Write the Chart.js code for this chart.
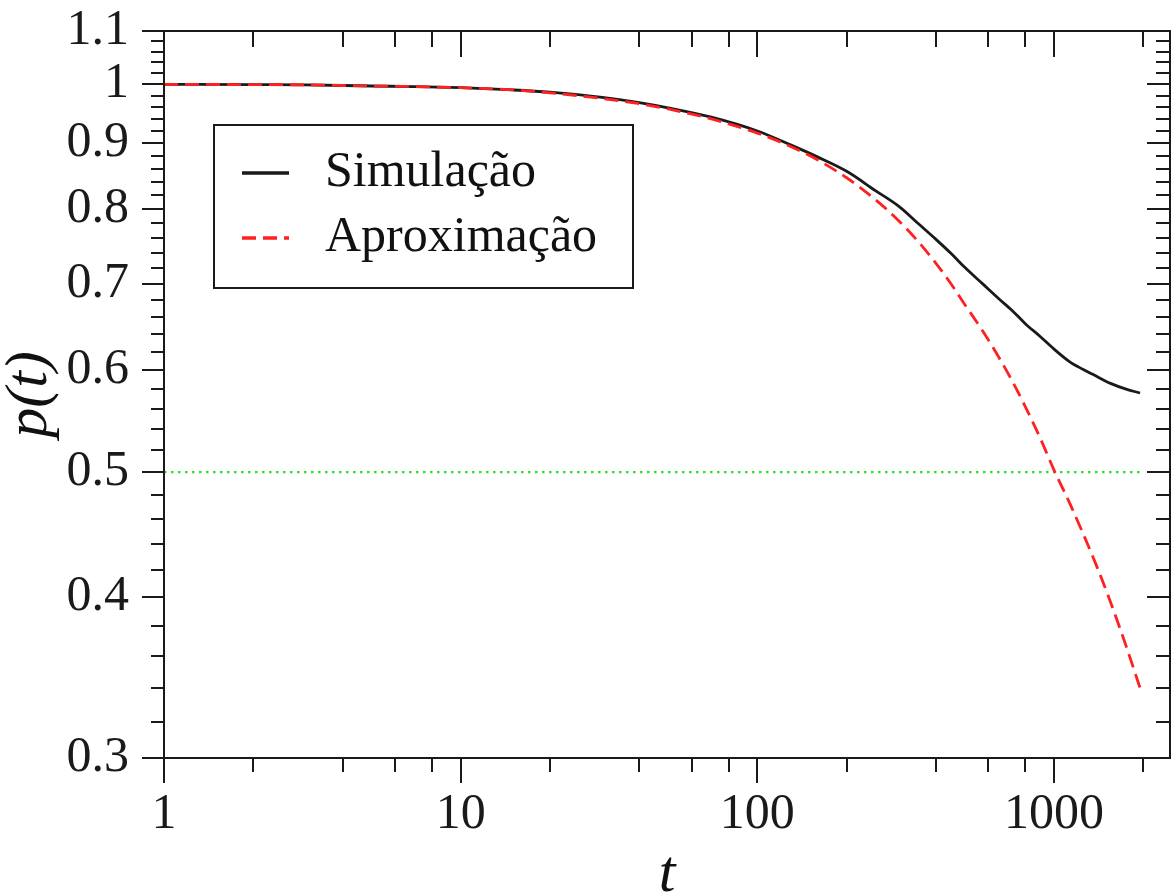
<!DOCTYPE html>
<html><head><meta charset="utf-8">
<script src="https://cdn.jsdelivr.net/npm/chart.js@4.4.0/dist/chart.umd.min.js"></script>
<style>html,body{margin:0;padding:0;background:#fff;}canvas{display:block;}</style>
</head><body>
<canvas id="c" width="1174" height="893"></canvas>
<script>
const tValues     = [1, 2, 3, 5, 7, 10, 15, 20, 30, 40, 50, 70, 100, 130, 160, 200, 250, 300, 350, 400, 450, 500, 575, 650, 725, 800, 900, 1000, 1130, 1250, 1400, 1550, 1750, 1950];
const simulacao   = [1.0, 0.9995, 0.999, 0.997, 0.996, 0.994, 0.990, 0.986, 0.977, 0.968, 0.959, 0.943, 0.920, 0.897, 0.878, 0.856, 0.827, 0.804, 0.779, 0.758, 0.739, 0.721, 0.700, 0.682, 0.667, 0.652, 0.637, 0.623, 0.609, 0.601, 0.593, 0.586, 0.580, 0.576];
const aproximacao = [1.0, 0.9995, 0.999, 0.997, 0.996, 0.994, 0.990, 0.985, 0.975, 0.966, 0.957, 0.940, 0.9165, 0.8945, 0.8734, 0.8462, 0.8138, 0.7834, 0.7541, 0.7263, 0.6998, 0.6748, 0.6435, 0.6146, 0.5877, 0.5622, 0.5309, 0.5019, 0.4729, 0.4486, 0.4214, 0.3965, 0.3664, 0.340];
const thresholdT  = [1, 1950];
const thresholdP  = [0.5, 0.5];
const seriesNames = ['Simulação', 'Aproximação'];
const xTickValues = [1, 10, 100, 1000];
const xTickLabels = ['1', '10', '100', '1000'];
const yTickValues = [0.3, 0.4, 0.5, 0.6, 0.7, 0.8, 0.9, 1.0, 1.1];
const yTickLabels = ['0.3', '0.4', '0.5', '0.6', '0.7', '0.8', '0.9', '1', '1.1'];
const xTitle = 't';
const yTitle = 'p(t)';

const SERIF = "'Liberation Serif', 'Times New Roman', serif";
const INK = '#1a1a1a';

const frameTicks = {
  id: 'frameTicks',
  afterDatasetsDraw(chart) {
    const {ctx, chartArea: a, scales: {x, y}} = chart;
    ctx.save();
    ctx.strokeStyle = INK;
    ctx.lineWidth = 2;
    ctx.setLineDash([]);
    ctx.strokeRect(a.left, a.top, a.right - a.left, a.bottom - a.top);
    ctx.beginPath();
    for (const v of xTickValues) {
      const px = Math.round(x.getPixelForValue(v));
      ctx.moveTo(px, a.bottom); ctx.lineTo(px, a.bottom + 25);
      ctx.moveTo(px, a.top); ctx.lineTo(px, a.top + 26);
    }
    for (const d of xTickValues) {
      for (const m of [2, 4, 6, 8]) {
        const v = d * m;
        if (v > x.max) continue;
        const px = Math.round(x.getPixelForValue(v));
        ctx.moveTo(px, a.bottom); ctx.lineTo(px, a.bottom + 14);
        ctx.moveTo(px, a.top); ctx.lineTo(px, a.top + 16);
      }
    }
    for (const v of yTickValues) {
      const py = Math.round(y.getPixelForValue(v));
      ctx.moveTo(a.left, py); ctx.lineTo(a.left - 22, py);
      ctx.moveTo(a.right, py); ctx.lineTo(a.right - 23, py);
    }
    for (let k = 16; k <= 54; k++) {
      if (k % 5 === 0) continue;
      const py = Math.round(y.getPixelForValue(k / 50));
      ctx.moveTo(a.left, py); ctx.lineTo(a.left - 13, py);
      ctx.moveTo(a.right, py); ctx.lineTo(a.right - 14, py);
    }
    ctx.stroke();
    ctx.restore();
  }
};

const boxLegend = {
  id: 'boxLegend',
  afterDraw(chart) {
    const {ctx, chartArea: a} = chart;
    const bx = a.left + 50, by = a.top + 94, bw = 419, bh = 163;
    ctx.save();
    ctx.fillStyle = '#fff';
    ctx.fillRect(bx, by, bw, bh);
    ctx.strokeStyle = INK;
    ctx.lineWidth = 2;
    ctx.strokeRect(bx, by, bw, bh);
    const rows = [48, 113];
    seriesNames.forEach((name, i) => {
      const ds = chart.data.datasets.find(d => d.label === name);
      const yy = by + rows[i];
      ctx.beginPath();
      ctx.strokeStyle = ds.borderColor;
      ctx.lineWidth = 3.5;
      ctx.setLineDash(ds.borderDash || []);
      ctx.moveTo(bx + 28, yy); ctx.lineTo(bx + 75, yy);
      ctx.stroke();
      ctx.setLineDash([]);
      ctx.fillStyle = '#111';
      ctx.font = "50px " + SERIF;
      ctx.textBaseline = 'middle';
      ctx.textAlign = 'left';
      ctx.fillText(name, bx + 111, yy);
    });
    ctx.restore();
  }
};

const pts = (xs, ys) => xs.map((t, i) => ({x: t, y: ys[i]}));

new Chart(document.getElementById('c'), {
  type: 'line',
  data: {
    datasets: [
      {label: seriesNames[1], data: pts(tValues, aproximacao), borderColor: '#ff2020', borderWidth: 2.8,
       borderDash: [14, 7], pointRadius: 0, cubicInterpolationMode: 'monotone', order: 0},
      {label: seriesNames[0], data: pts(tValues, simulacao), borderColor: INK, borderWidth: 2.8,
       pointRadius: 0, cubicInterpolationMode: 'monotone', order: 1},
      {label: 'p = 0.5', data: pts(thresholdT, thresholdP), borderColor: '#2ee02e', borderWidth: 2.2,
       borderDash: [2.5, 4.5], pointRadius: 0, order: 2}
    ]
  },
  options: {
    responsive: false,
    animation: false,
    devicePixelRatio: 1,
    layout: {padding: {top: 31, right: 4, left: 0, bottom: 0}},
    plugins: {legend: {display: false}, tooltip: {enabled: false}},
    scales: {
      x: {
        type: 'logarithmic', position: 'bottom', min: 1, max: 2460,
        afterBuildTicks: s => { s.ticks = xTickValues.map(v => ({value: v})); },
        afterFit: s => { s.height = 135; },
        grid: {display: false, drawTicks: true, tickLength: 25},
        border: {display: false},
        ticks: {autoSkip: false, maxRotation: 0, padding: 2, color: INK,
                font: {family: SERIF, size: 50, lineHeight: 1.2},
                callback: (v, i) => xTickLabels[i]},
        title: {display: true, text: xTitle, color: '#111',
                font: {family: SERIF, size: 60, style: 'italic', lineHeight: 0.6},
                padding: {top: 0, bottom: 0}}
      },
      y: {
        type: 'logarithmic', position: 'left', min: 0.3, max: 1.1,
        afterBuildTicks: s => { s.ticks = yTickValues.map(v => ({value: v})); },
        afterFit: s => { s.width = 164; },
        grid: {display: false, drawTicks: true, tickLength: 22},
        border: {display: false},
        ticks: {autoSkip: false, padding: 13, color: INK,
                font: {family: SERIF, size: 50, lineHeight: 0.6},
                callback: (v, i) => yTickLabels[i]},
        title: {display: true, text: yTitle, color: '#111',
                font: {family: SERIF, size: 60, style: 'italic', lineHeight: 1.0},
                padding: {top: 0, bottom: 0}}
      }
    }
  },
  plugins: [frameTicks, boxLegend]
});
</script>
</body></html>
